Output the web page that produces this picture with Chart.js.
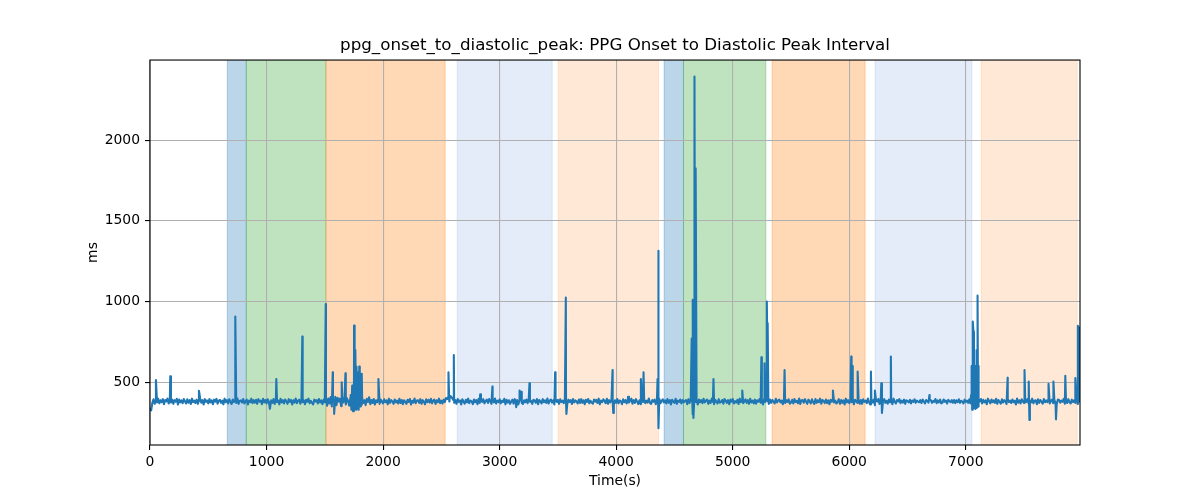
<!DOCTYPE html>
<html><head><meta charset="utf-8">
<script src="https://cdn.jsdelivr.net/npm/chart.js@4.4.0/dist/chart.umd.min.js"></script>
<style>html,body{margin:0;padding:0;background:#fff}#wrap{width:1200px;height:500px}</style>
</head><body><div id="wrap"><canvas id="c" width="1200" height="500"></canvas></div>
<script>
// ---------- data ----------
const TITLE = 'ppg_onset_to_diastolic_peak: PPG Onset to Diastolic Peak Interval';
const X_LABEL = 'Time(s)';
const Y_LABEL = 'ms';
const xTicks = [0, 1000, 2000, 3000, 4000, 5000, 6000, 7000];
const yTicks = [500, 1000, 1500, 2000];
const xRange = [0, 7980];
const yRange = [111, 2496];

// baseline samples, one every 10 s starting at t = 0 (one row = 100 s)
const baseStep = 10;
const baseline = [
 338,326,372,394,366,391,375,398,369,388,
 377,395,364,390,381,399,368,386,374,392,
 366,389,379,397,362,393,375,387,370,396,
 381,368,394,373,389,365,398,377,386,371,
 392,366,384,401,373,389,362,395,378,387,
 369,396,375,388,364,392,380,397,367,385,
 391,372,386,363,398,376,389,368,394,379,
 365,393,377,390,371,399,366,384,388,374,
 396,368,382,392,362,387,376,398,370,389,
 373,391,366,395,380,386,364,397,375,390,
 368,394,379,341,388,372,396,365,391,377,
 386,363,397,374,389,368,393,381,366,395,
 378,390,362,388,374,399,370,385,392,367,
 395,376,387,364,391,379,398,369,384,373,
 362,393,381,389,368,396,374,387,364,392,
 376,402,354,399,368,408,350,395,372,410,
 358,404,380,398,352,396,374,411,362,400,
 383,355,406,370,412,348,398,376,405,360,
 395,366,402,372,389,358,397,378,407,364,
 390,371,396,362,388,377,399,366,392,380,
 369,394,376,387,363,398,372,389,381,366,
 393,375,386,368,397,371,390,364,388,379,
 366,391,378,396,362,385,374,399,370,387,
 388,372,395,366,389,380,363,394,377,391,
 374,397,369,386,392,365,388,376,398,370,
 386,368,393,377,402,396,410,398,414,405,
 392,373,389,366,396,378,387,362,394,380,
 367,391,375,398,370,386,381,364,393,376,
 389,364,397,372,387,378,395,369,384,392,
 371,396,380,366,390,375,399,368,386,377,
 394,369,385,378,397,363,391,374,388,366,
 380,392,367,395,373,389,362,386,398,372,
 365,388,376,393,370,397,379,384,366,391,
 387,373,396,364,390,381,369,395,376,388,
 372,399,368,385,393,374,388,362,397,378,
 390,366,394,377,386,370,398,375,363,392,
 378,389,365,396,374,387,381,368,393,371,
 395,372,388,363,391,378,396,369,385,374,
 367,393,380,390,371,398,364,386,377,394,
 384,370,397,366,389,375,392,379,362,388,
 373,396,369,387,382,364,394,376,390,368,
 391,374,386,398,367,389,372,395,380,365,
 388,363,392,377,396,370,385,374,399,372,
 366,390,379,393,364,387,376,398,370,384,
 394,375,388,368,396,373,389,362,391,380,
 372,397,366,386,378,393,369,390,375,384,
 389,364,395,371,398,380,366,392,377,387,
 362,393,376,389,370,397,374,385,393,366,
 386,371,398,378,363,391,380,368,395,373,
 377,390,367,396,385,372,389,364,392,379,
 396,368,383,374,391,365,398,377,387,370,
 381,394,372,389,366,397,375,386,369,392,
 367,388,379,395,373,384,362,396,378,390,
 384,366,393,372,390,380,368,397,374,387,
 392,375,386,364,398,371,389,378,394,367,
 374,391,368,396,377,385,370,399,365,388,
 389,373,395,379,366,392,381,369,394,376,
 365,396,372,388,376,398,367,390,383,371,
 393,370,387,364,391,379,396,374,386,368,
 378,395,366,390,372,387,362,398,375,389,
 370,388,376,397,364,391,381,372,395,367,
 390,366,394,378,386,370,399,376,362,393,
 374,392,358,388,380,396,365,391,377,386,
 396,372,385,367,393,376,389,364,398,379,
 368,390,381,395,370,386,374,392,366,388,
 383,375,391,369,387,378,394,372,386,380,
 376,389,371,393,380,368,390,384,374,395,
 388,372,384,378,396,370,387,375,392,369,
 374,393,379,386,368,391,382,376,389,373,
 390,370,387,377,394,372,385,380,368,392,
 378,386,372,394,369,390,356,412,348,420,
 345,416,380,396,368,391,375,387,364,398,
 382,369,393,376,388,372,397,366,390,379,
 367,394,374,389,380,365,396,377,386,371,
 393,376,385,362,399,373,388,368,394,380,
 371,390,378,396,366,387,375,398,369,385,
 388,364,394,372,390,379,367,396,376,387,
 376,397,368,385,392,370,389,374,362,393,
 390,373,386,379,397,366,384,371,395,377,
 368,392,377,388,372,396,365,390,375,382
];

// isolated spikes / dips
const spikeTimes = [
 51,174,420,732,1029,1084,1307,1508,1568,1580,1645,1677,
 1722,1728,1735,1742,1751,1756,1762,1768,1774,1779,1785,1791,1796,1802,1808,1813,1817,1822,
 1960,2561,2568,2607,2833,2938,3142,3171,3185,3256,3476,3568,3573,3969,3975,
 4102,4212,4235,4355,4361,4365,
 4648,4652,4655,4659,4663,4672,4677,4684,4690,
 4835,5082,5246,5273,5293,5300,5306,5445,5860,
 6017,6025,6072,6186,6220,6275,6281,6357,6688,
 7045,7050,7055,7060,7066,7071,7080,7085,7090,7095,7101,7105,7108,7112,
 7359,7504,7540,7546,7710,7752,7774,7854,7940,7962,7972
];
const spikeValues = [
 514,537,447,907,335,520,783,985,562,304,500,555,
 420,330,480,320,851,360,700,330,597,340,560,330,597,350,540,360,552,380,
 520,562,380,669,425,473,345,449,440,494,562,1024,304,576,310,
 410,520,562,520,1314,215,
 770,400,1010,300,279,2394,420,1826,390,
 520,448,655,618,1000,866,380,576,448,
 659,600,566,566,448,494,310,659,420,
 420,600,330,876,814,340,600,335,700,340,1037,350,600,380,
 528,576,504,266,490,504,270,540,526,849,840
];

// shaded periods
const spanStart = [663, 826, 1510, 2636, 3503, 4412, 4578, 5338, 6222, 7132];
const spanEnd   = [826, 1510, 2533, 3451, 4363, 4578, 5284, 6136, 7052, 7955];
const spanKind  = ['b','g','o','lb','lo','b','g','o','lb','lo'];

// ---------- styles ----------
const spanColors = {
  b:  'rgba(31,119,180,0.3)',
  g:  'rgba(44,160,44,0.3)',
  o:  'rgba(255,127,14,0.3)',
  lb: 'rgba(70,130,210,0.15)',
  lo: 'rgba(255,127,14,0.17)'
};
const FONT = 'DejaVu Sans';

// ---------- build ----------
const points = [];
baseline.forEach((v, i) => points.push({x: i * baseStep, y: v}));
spikeTimes.forEach((t, i) => points.push({x: t, y: spikeValues[i]}));
points.sort((a, b) => a.x - b.x);

const spanPlugin = {
  id: 'spans',
  beforeDraw(chart) {
    const {ctx, chartArea: a, scales: {x}} = chart;
    ctx.save();
    spanStart.forEach((s, i) => {
      const x1 = Math.max(a.left, x.getPixelForValue(s));
      const x2 = Math.min(a.right, x.getPixelForValue(spanEnd[i]));
      ctx.fillStyle = spanColors[spanKind[i]];
      ctx.fillRect(x1, a.top, x2 - x1, a.bottom - a.top);
      ctx.strokeStyle = spanColors[spanKind[i]];
      ctx.lineWidth = 1;
      ctx.beginPath();
      ctx.moveTo(x1, a.top); ctx.lineTo(x1, a.bottom);
      ctx.moveTo(x2, a.top); ctx.lineTo(x2, a.bottom);
      ctx.stroke();
    });
    ctx.restore();
  }
};
const framePlugin = {
  id: 'frame',
  afterDraw(chart) {
    const {ctx, chartArea: a} = chart;
    ctx.save();
    ctx.strokeStyle = '#000';
    ctx.lineWidth = 1.1;
    ctx.strokeRect(a.left, a.top, a.right - a.left, a.bottom - a.top);
    ctx.restore();
  }
};

new Chart(document.getElementById('c'), {
  type: 'line',
  data: {datasets: [{
    data: points, borderColor: '#1f77b4', borderWidth: 2.08,
    pointRadius: 0, tension: 0, fill: false, borderJoinStyle: 'round'
  }]},
  options: {
    responsive: false, animation: false, devicePixelRatio: 1,
    layout: {padding: {left: 0, right: 120, top: 0, bottom: 0}},
    plugins: {
      legend: {display: false}, tooltip: {enabled: false},
      title: {display: true, text: TITLE, fullSize: false, color: '#000',
        font: {family: FONT, size: 16.7, weight: 'normal', lineHeight: 1.2},
        padding: {top: 36, bottom: 4}}
    },
    scales: {
      x: {
        type: 'linear', min: xRange[0], max: xRange[1],
        afterBuildTicks: s => { s.ticks = xTicks.map(v => ({value: v})); },
        afterFit: s => { s.height = 55; },
        border: {display: false},
        grid: {color: '#b0b0b0', lineWidth: 1.1, tickLength: 5, tickColor: '#000', tickWidth: 1.1},
        ticks: {color: '#000', font: {family: FONT, size: 13.9}, padding: 4,
          maxRotation: 0, autoSkip: false, callback: v => String(v)},
        title: {display: true, text: X_LABEL, color: '#000',
          font: {family: FONT, size: 13.9, lineHeight: 1.2}, padding: {top: 0, bottom: 10}}
      },
      y: {
        type: 'linear', min: yRange[0], max: yRange[1],
        afterBuildTicks: s => { s.ticks = yTicks.map(v => ({value: v})); },
        afterFit: s => { s.width = 150; },
        border: {display: false},
        grid: {color: '#b0b0b0', lineWidth: 1.1, tickLength: 5, tickColor: '#000', tickWidth: 1.1},
        ticks: {color: '#000', font: {family: FONT, size: 13.9}, padding: 5,
          autoSkip: false, callback: v => String(v)},
        title: {display: true, text: Y_LABEL, color: '#000',
          font: {family: FONT, size: 13.9, lineHeight: 1.2}, padding: {top: 85, bottom: 0}}
      }
    }
  },
  plugins: [spanPlugin, framePlugin]
});
</script>
</body></html>
